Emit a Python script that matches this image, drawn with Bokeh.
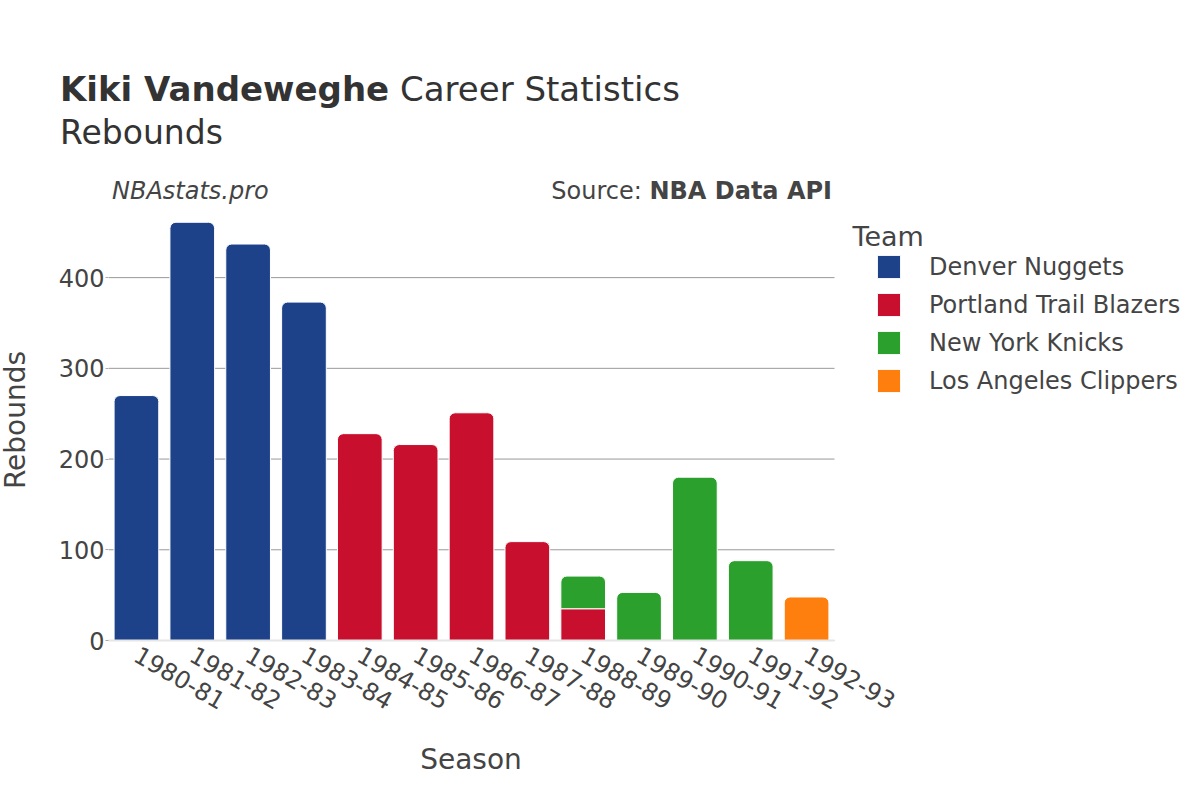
import math
from bokeh.plotting import figure
from bokeh.layouts import column, row
from bokeh.models import (Label, Legend, LegendItem, Range1d, FixedTicker,
                          ColumnDataSource, Div)
from bokeh.embed import file_html
from bokeh.resources import INLINE

# ---------------- data ----------------
seasons = ["1980-81", "1981-82", "1982-83", "1983-84", "1984-85", "1985-86",
           "1986-87", "1987-88", "1988-89", "1989-90", "1990-91", "1991-92",
           "1992-93"]
teams = ["Denver Nuggets", "Portland Trail Blazers", "New York Knicks",
         "Los Angeles Clippers"]
team_colors = ["#1D428A", "#C8102E", "#2CA02C", "#FF7F0E"]
denver = [270, 461, 437, 373, 0, 0, 0, 0, 0, 0, 0, 0, 0]
portland = [0, 0, 0, 0, 228, 216, 251, 109, 35, 0, 0, 0, 0]
knicks = [0, 0, 0, 0, 0, 0, 0, 0, 36, 53, 180, 88, 0]
clippers = [0, 0, 0, 0, 0, 0, 0, 0, 0, 0, 0, 0, 48]
y_ticks = [0, 100, 200, 300, 400]
title_bold = "Kiki Vandeweghe"
title_rest = "Career Statistics"
subtitle = "Rebounds"
credit = "NBAstats.pro"
source_lead = "Source:"
source_name = "NBA Data API"
x_title = "Season"
y_title = "Rebounds"
legend_title = "Team"

team_values = [denver, portland, knicks, clippers]

# ---------------- layout constants (page pixels) ----------------
W = 1200
HEAD_H, MAIN_H, FOOT_H = 208, 532, 60
YDIV_W = 40
FL, FR_BARS, FB = 108, 834, 640
PX_PER_UNIT = 440 / 485
YMAX = (FB - HEAD_H) / PX_PER_UNIT
n = len(seasons)
PITCH = (FR_BARS - FL) / n
FONT = "DejaVu Sans"
TXT = "#444444"
TITLE_C = "#333333"
ASC = 0.846   # baseline offset (em) of DejaVu Sans at line-height 1


def span(html, baseline, size, left=None, right=None, width=None,
         align="left", extra=""):
    top = baseline - ASC * size
    pos = f"left:{left}px;" if left is not None else f"right:{right}px;"
    if width is not None:
        pos += f"width:{width}px;text-align:{align};"
    return (f'<span style="position:absolute;{pos}top:{top:.1f}px;'
            f'font-size:{size}px;line-height:1;white-space:nowrap;{extra}">'
            f'{html}</span>')


def box(inner, width, height):
    return (f'<div style="position:relative;width:{width}px;height:{height}px;'
            f"font-family:'{FONT}';color:{TXT};overflow:visible;\">"
            f'{inner}</div>')


# ---------------- header ----------------
head_html = (
    span(f"<b>{title_bold}</b> {title_rest}", 101, 34, left=60,
         extra=f"color:{TITLE_C};")
    + span(subtitle, 144, 33, left=60, extra=f"color:{TITLE_C};")
    + span(credit, 199, 24, left=112, extra="font-style:italic;")
    + span(f"{source_lead} <b>{source_name}</b>", 199, 24, right=W - 832)
)
head = Div(text=box(head_html, W, HEAD_H), width=W, height=HEAD_H, margin=0)

# ---------------- y-axis title (rotated text) ----------------
ytitle_html = (
    f'<span style="position:absolute;left:16px;top:{420 - HEAD_H}px;'
    f'font-size:28px;line-height:1;white-space:nowrap;'
    f'transform:translate(-50%,-50%) rotate(-90deg);">{y_title}</span>')
ydiv = Div(text=box(ytitle_html, YDIV_W, MAIN_H), width=YDIV_W,
           height=MAIN_H, margin=0)

# ---------------- main chart ----------------
p = figure(width=W - YDIV_W, height=MAIN_H, output_backend="svg",
           toolbar_location=None,
           x_range=Range1d(-0.5, -0.5 + (W - FL) / PITCH),
           y_range=Range1d(0, YMAX),
           min_border_left=FL - YDIV_W, min_border_right=0,
           min_border_top=0, min_border_bottom=HEAD_H + MAIN_H - FB)
p.title.visible = False
p.outline_line_color = None
p.xgrid.visible = False
p.ygrid.visible = False


def dx(px):
    return -0.5 + (px - FL) / PITCH


def dy(py):
    return (FB - py) / PX_PER_UNIT


# horizontal grid lines over the bar area only
p.segment(x0=[-0.5] * len(y_ticks), x1=[n - 0.5] * len(y_ticks),
          y0=y_ticks, y1=y_ticks, line_color="#999999", line_width=1)

bottoms = [0] * n
legend_renderers = []
for t, (vals, color) in enumerate(zip(team_values, team_colors)):
    later = team_values[t + 1:]
    top_idx = [i for i in range(n) if vals[i] > 0 and all(v[i] == 0 for v in later)]
    mid_idx = [i for i in range(n) if vals[i] > 0 and i not in top_idx]
    first = None
    for idx, radius in ((top_idx, (6, 6, 0, 0)), (mid_idx, 0)):
        if not idx:
            continue
        src = ColumnDataSource(dict(
            x=idx,
            bottom=[bottoms[i] for i in idx],
            top=[bottoms[i] + vals[i] for i in idx]))
        r = p.vbar(x="x", bottom="bottom", top="top", width=0.8, source=src,
                   fill_color=color, line_color="white", line_width=1,
                   border_radius=radius)
        if first is None:
            first = r
    legend_renderers.append(first)
    for i in range(n):
        bottoms[i] += vals[i]

# axes
p.xaxis.ticker = FixedTicker(ticks=list(range(n)))
p.xaxis.bounds = (-0.5, n - 0.5)
p.xaxis.major_label_overrides = {i: s for i, s in enumerate(seasons)}
p.xaxis.major_label_orientation = -math.pi / 6
p.xaxis.major_label_text_font = FONT
p.xaxis.major_label_text_font_size = "24px"
p.xaxis.major_label_text_color = TXT
p.xaxis.major_tick_line_color = None
p.xaxis.minor_tick_line_color = None
p.xaxis.axis_line_color = "#e6e6e6"
p.xaxis.axis_line_width = 2
p.xaxis.major_label_standoff = 6

p.yaxis.ticker = FixedTicker(ticks=y_ticks)
p.yaxis.major_label_text_font = FONT
p.yaxis.major_label_text_font_size = "24px"
p.yaxis.major_label_text_color = TXT
p.yaxis.axis_line_color = None
p.yaxis.major_tick_line_color = "#aaaaaa"
p.yaxis.major_tick_out = 3
p.yaxis.major_tick_in = 0
p.yaxis.minor_tick_line_color = None
p.yaxis.major_label_standoff = 1

# legend (inside the wide frame, right of the bars)
items = [LegendItem(label=t, renderers=[r]) for t, r in zip(teams, legend_renderers)]
legend = Legend(items=items, location=(766, 245), orientation="vertical",
                glyph_width=29, glyph_height=29, label_height=29,
                label_standoff=26, spacing=9, padding=0, margin=0,
                border_line_alpha=0, background_fill_alpha=0,
                label_text_font=FONT, label_text_font_size="24px",
                label_text_color=TXT)
p.add_layout(legend)
p.add_layout(Label(x=dx(852), y=dy(236), text=legend_title, text_font=FONT,
                   text_font_size="27px", text_color=TXT,
                   text_baseline="alphabetic"))

# ---------------- footer ----------------
foot_html = span(x_title, 770 - HEAD_H - MAIN_H, 28, left=0, width=2 * 471,
                 align="center")
foot = Div(text=box(foot_html, W, FOOT_H), width=W, height=FOOT_H, margin=0)

layout = column(head, row(ydiv, p, spacing=0), foot, spacing=0)
open("out.html", "w").write(file_html(layout, INLINE))
